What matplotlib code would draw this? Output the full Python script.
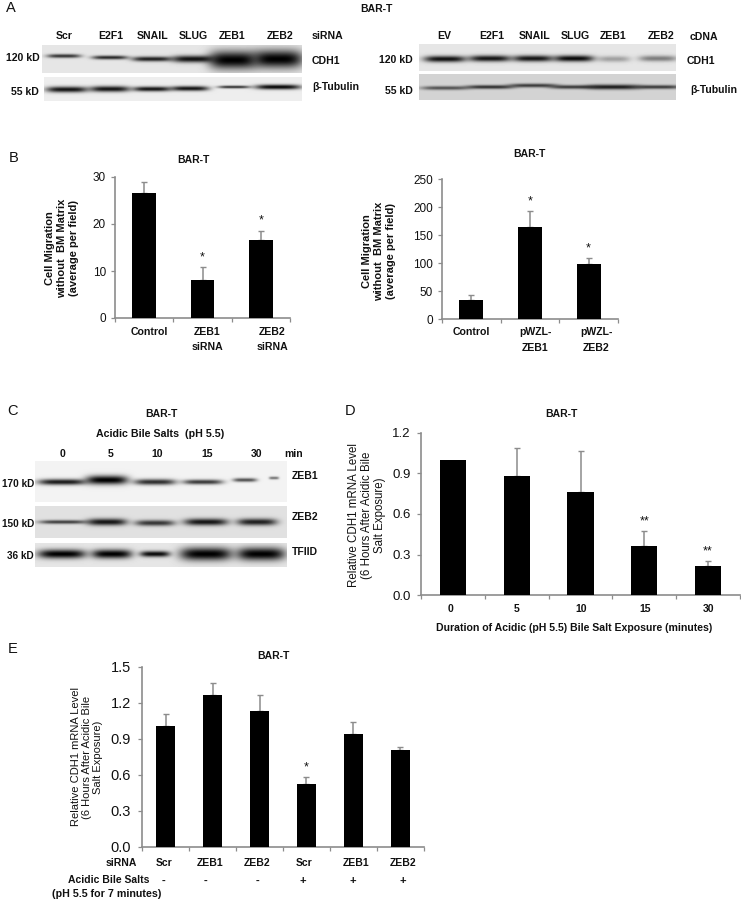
import matplotlib
matplotlib.use('Agg')
import matplotlib.pyplot as plt
import numpy as np

W, H = 741, 900
narrow = ['Liberation Sans Narrow', 'Liberation Sans']
sans = ['Liberation Sans', 'DejaVu Sans']
plt.rcParams['font.family'] = sans

# bar data
b1_labels = ['Control', 'ZEB1\n\nsiRNA', 'ZEB2\n\nsiRNA']
b1_values = [26.5, 8.0, 16.5]
b1_err = [2.5, 2.8, 2.1]
b1_stars = ['', '*', '*']

b2_labels = ['Control', 'pWZL-\n\nZEB1', 'pWZL-\n\nZEB2']
b2_values = [34, 164, 98]
b2_err = [9, 29, 11]
b2_stars = ['', '*', '*']

d_labels = ['0', '5', '10', '15', '30']
d_values = [1.0, 0.88, 0.76, 0.36, 0.215]
d_err = [0, 0.21, 0.31, 0.115, 0.035]
d_stars = ['', '', '', '**', '**']

e_labels = ['Scr', 'ZEB1', 'ZEB2', 'Scr', 'ZEB1', 'ZEB2']
e_signs = ['-', '-', '-', '+', '+', '+']
e_values = [1.005, 1.265, 1.135, 0.525, 0.94, 0.805]
e_err = [0.10, 0.105, 0.13, 0.055, 0.105, 0.025]
e_stars = ['', '', '', '*', '', '']

# blot band strengths per lane
cdh1_si = [0.75, 0.8, 0.85, 0.92, 1.0, 1.0]
tub_si = [0.9, 0.9, 0.9, 0.9, 0.75, 0.95]
cdh1_c = [0.92, 0.9, 0.9, 0.95, 0.3, 0.45]
tub_c = [0.6, 0.75, 0.7, 0.7, 0.85, 0.7]
zeb1_c = [0.88, 1.0, 0.8, 0.75, 0.65, 0.5]
zeb2_c = [0.7, 0.9, 0.75, 0.9, 0.85]
tfiid_c = [1.0, 1.0, 0.95, 1.0, 1.0]

fig = plt.figure(figsize=(W / 100, H / 100), dpi=100)
bg = fig.add_axes([0, 0, 1, 1])
bg.set_xlim(0, W)
bg.set_ylim(H, 0)
bg.axis('off')


def txt(x, y, s, size=7.5, ha='center', **kw):
    kw.setdefault('family', sans)
    bg.text(x, y, s, fontsize=size, ha=ha, va='center', color='#111111', **kw)


def blot(box, strengths, centers, widths, ys, thick, base=0.93):
    x0, x1, y0, y1 = box
    xx, yy = np.meshgrid(np.arange(x0, x1) + 0.5, np.arange(y0, y1) + 0.5)
    img = np.full(xx.shape, base)
    for s, c, w, yc, t in zip(strengths, centers, widths, ys, thick):
        band = np.exp(-((xx - c) / w) ** 4) * np.exp(-((yy - yc) / t) ** 2)
        img *= 1 - s * band
    bg.imshow(img, extent=(x0, x1, y1, y0), cmap='gray', vmin=0, vmax=1,
              interpolation='bilinear', aspect='auto', zorder=1)


def bars(rect, values, err, stars, ymax, yticks, fmt, width, fs, pad=3.5):
    left, top, right, bottom = rect
    ax = fig.add_axes([left / W, 1 - bottom / H, (right - left) / W, (bottom - top) / H])
    ax.patch.set_alpha(0)
    x = np.arange(len(values))
    ax.bar(x, values, width, color='black', zorder=3)
    # a bar without spread gets no whisker
    for i in x:
        if err[i] > 0:
            ax.errorbar(i, values[i], yerr=[[0], [err[i]]], fmt='none', ecolor='#8c8c8c',
                        elinewidth=1.1, capsize=2, capthick=1, zorder=2)
    ax.set_xlim(-0.5, len(values) - 0.5)
    ax.set_ylim(0, ymax)
    ax.set_yticks(yticks)
    ax.set_yticklabels([fmt % v for v in yticks], fontsize=fs, color='#111111')
    ax.set_xticks(np.arange(len(values) + 1) - 0.5)
    ax.set_xticklabels([])
    ax.tick_params(axis='both', length=3, width=0.9, color='#8c8c8c', pad=pad)
    for s in ['top', 'right']:
        ax.spines[s].set_visible(False)
    for s in ['left', 'bottom']:
        ax.spines[s].set_color('#8c8c8c')
        ax.spines[s].set_linewidth(1.2)
    for i, s in enumerate(stars):
        if s:
            ax.annotate(s, (i, values[i] + err[i]), xytext=(0, 7), textcoords='offset points',
                        ha='center', va='center', fontsize=9, color='#111111')
    return ax


# panel letters
for x, y, s in [(11, 8, 'A'), (14, 158, 'B'), (13, 411, 'C'), (350, 411, 'D'), (13, 649, 'E')]:
    txt(x, y, s, 10.5)

# panel A
nb = dict(family=narrow, fontweight='bold')
txt(376, 9, 'BAR-T', 7.5, **nb)
lanes_si = [64, 110, 152, 193, 233, 278]
lanes_c = [445, 490, 533, 574, 614, 658]
for x, s in zip([64, 111, 153, 193, 232, 280], ['Scr', 'E2F1', 'SNAIL', 'SLUG', 'ZEB1', 'ZEB2']):
    txt(x, 36, s, 7.6, **nb)
for x, s in zip([444, 492, 535, 575, 613, 661], ['EV', 'E2F1', 'SNAIL', 'SLUG', 'ZEB1', 'ZEB2']):
    txt(x, 36, s, 7.6, **nb)
txt(312, 36, 'siRNA', 7.6, ha='left', **nb)
txt(690, 37, 'cDNA', 7.6, ha='left', **nb)
txt(312, 61, 'CDH1', 7.6, ha='left', **nb)
txt(687, 61, 'CDH1', 7.6, ha='left', **nb)
txt(312, 87, 'β-Tubulin', 7.6, ha='left', **nb)
txt(690, 90, 'β-Tubulin', 7.6, ha='left', **nb)
txt(40, 58, '120 kD', 7.6, ha='right', **nb)
txt(39, 92, '55 kD', 7.6, ha='right', **nb)
txt(413, 60, '120 kD', 7.6, ha='right', **nb)
txt(413, 91, '55 kD', 7.6, ha='right', **nb)

blot((42, 302, 45, 73), cdh1_si, lanes_si, [17, 18, 20, 21, 24, 25],
     [56, 57.5, 59, 59, 60, 59], [2, 2, 2.5, 3.5, 9, 9], base=0.9)
blot((44, 302, 77, 101), tub_si, [67, 110, 152, 190, 234, 278], [21, 20, 19, 19, 16, 23],
     [89.5, 89, 89, 88.5, 87, 87], [3, 3, 2.5, 2.5, 1.5, 2.5])
blot((419, 676, 44, 71), cdh1_c, lanes_c, [21, 21, 20, 20, 16, 19],
     [59, 58.5, 58.5, 58.5, 59, 58.5], [3.2, 3.2, 3.2, 3.2, 3, 3], base=0.9)
blot((419, 676, 74, 100), tub_c, lanes_c, [24, 24, 24, 24, 26, 24],
     [88, 87, 85.5, 87, 87, 87], [2, 2, 2, 2, 2.5, 2], base=0.83)

# panel B
txt(193, 160, 'BAR-T', 7.5, **nb)
txt(529, 154, 'BAR-T', 7.5, **nb)
bars((115, 177, 290, 318), b1_values, b1_err, b1_stars, 30, [0, 10, 20, 30], '%d', 0.41, 8.5)
bars((442, 179, 618, 319), b2_values, b2_err, b2_stars, 250,
     [0, 50, 100, 150, 200, 250], '%d', 0.41, 8.5)
for x, s in zip([149, 207, 272], b1_labels):
    for i, part in enumerate(s.split('\n\n')):
        txt(x, 332 + 15 * i, part, 7.6, **nb)
for x, s in zip([471, 535, 596], b2_labels):
    for i, part in enumerate(s.split('\n\n')):
        txt(x, 332 + 16 * i, part, 7.6, **nb)
ylab = 'Cell Migration\nwithout  BM Matrix\n(average per field)'
bg.text(62, 248, ylab, fontsize=8, fontweight='bold', rotation=90, ha='center', va='center',
        multialignment='center', linespacing=1.25, color='#111111')
bg.text(379, 251, ylab, fontsize=8, fontweight='bold', rotation=90, ha='center', va='center',
        multialignment='center', linespacing=1.25, color='#111111')

# panel C
txt(161, 414, 'BAR-T', 7.5, fontweight='bold')
txt(160, 434, 'Acidic Bile Salts  (pH 5.5)', 7.7, fontweight='bold')
for x, s in zip([62, 111, 157, 207, 257], d_labels):
    txt(x, 454, s, 7.5, fontweight='bold')
txt(284, 454, 'min', 7.5, ha='left', fontweight='bold')
txt(292, 476, 'ZEB1', 7.5, ha='left', fontweight='bold')
txt(292, 517, 'ZEB2', 7.5, ha='left', fontweight='bold')
txt(292, 552, 'TFIID', 7.5, ha='left', fontweight='bold')
txt(34, 484, '170 kD', 7.2, ha='right', fontweight='bold')
txt(34, 524, '150 kD', 7.2, ha='right', fontweight='bold')
txt(34, 556, '36 kD', 7.2, ha='right', fontweight='bold')
blot((35, 287, 461, 502), zeb1_c, [62, 107, 155, 203, 245, 274], [24, 21, 21, 20, 12, 5],
     [482, 480, 482, 482, 480, 478], [3, 4.5, 3, 2.5, 2, 1.5], base=0.95)
blot((35, 287, 506, 538), zeb2_c, [63, 107, 155, 206, 257], [24, 20, 20, 22, 20],
     [522, 522, 523, 522, 522], [2, 3.5, 3, 3.5, 3.5], base=0.88)
blot((35, 287, 543, 567), tfiid_c, [62, 112, 155, 206, 261], [24, 20, 15, 26, 24],
     [554, 554, 554, 554, 554], [4.5, 4.5, 3, 6.5, 6.5], base=0.9)

# panel D
txt(561, 414, 'BAR-T', 7.5, fontweight='bold')
bars((421, 433, 740, 595), d_values, d_err, d_stars, 1.2, [0, 0.3, 0.6, 0.9, 1.2], '%.1f',
     0.41, 9.5, pad=4.5)
for x, s in zip([451, 517, 581, 645, 709], d_labels):
    txt(x, 609, s, 7.5, fontweight='bold')
txt(574, 628, 'Duration of Acidic (pH 5.5) Bile Salt Exposure (minutes)', 7.6, fontweight='bold')
bg.text(367, 515, 'Relative CDH1 mRNA Level\n(6 Hours After Acidic Bile\nSalt Exposure)', fontsize=8.3,
        rotation=90, ha='center', va='center', multialignment='center', linespacing=1.1,
        color='#111111')

# panel E
txt(273, 656, 'BAR-T', 7.5, fontweight='bold')
bars((142, 667, 424, 847), e_values, e_err, e_stars, 1.5, [0, 0.3, 0.6, 0.9, 1.2, 1.5], '%.1f',
     0.41, 10.5, pad=5)
for x, s in zip([164, 210, 257, 304, 356, 403], e_labels):
    txt(x, 863, s, 7.5, fontweight='bold')
for x, s in zip([164, 206, 257, 303, 353, 403], e_signs):
    txt(x, 881, s, 8, fontweight='bold')
txt(137, 863, 'siRNA', 7.5, ha='right', fontweight='bold')
txt(149, 880, 'Acidic Bile Salts', 7.5, ha='right', fontweight='bold')
txt(161, 894, '(pH 5.5 for 7 minutes)', 7.7, ha='right', fontweight='bold')
bg.text(87, 757, 'Relative CDH1 mRNA Level\n(6 Hours After Acidic Bile\nSalt Exposure)', fontsize=8,
        rotation=90, ha='center', va='center', multialignment='center', linespacing=1.1,
        color='#111111')

bg.set_xlim(0, W)
bg.set_ylim(H, 0)
fig.savefig('out.png', dpi=100, facecolor='white')
